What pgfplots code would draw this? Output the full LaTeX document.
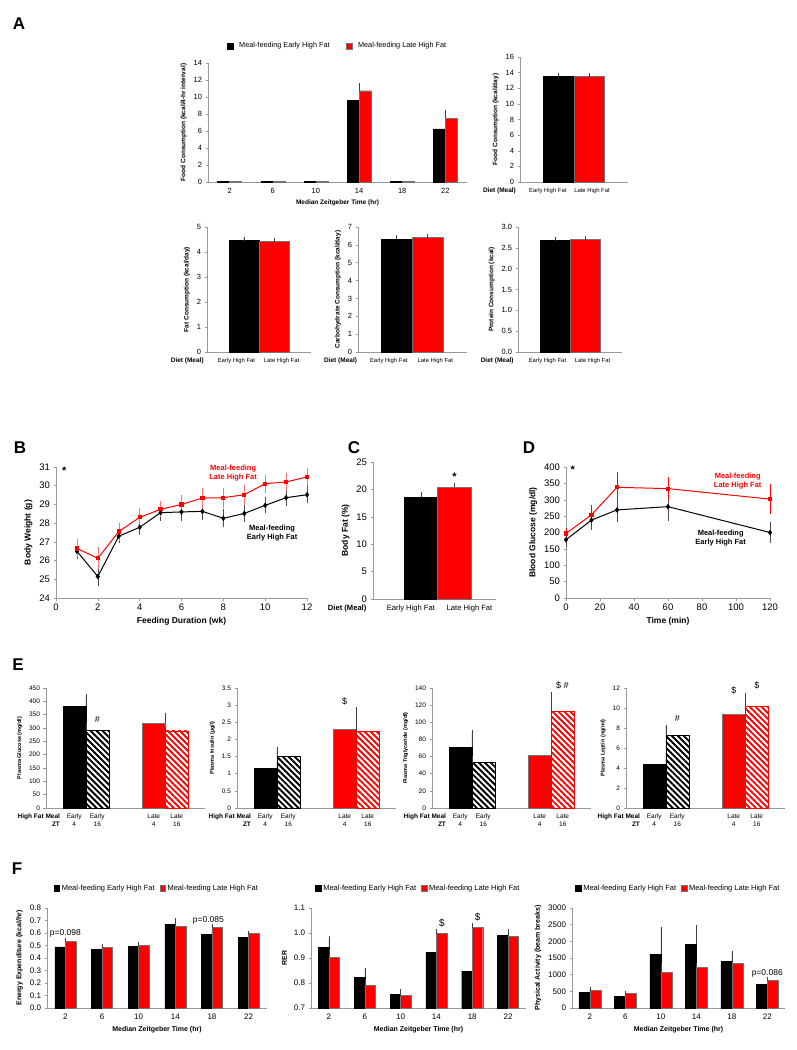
\documentclass[border=0pt]{standalone}
\usepackage{fontspec}
\setmainfont{Liberation Sans}
\usepackage{pgfplots}
\pgfplotsset{compat=1.18}
\usetikzlibrary{patterns.meta}

\newcommand\fsz[1]{\fontsize{#1}{\fpeval{#1*1.25}}\selectfont}

\pgfplotsset{
  panel/.style={
    scale only axis, clip=false, anchor=south west,
    axis x line*=bottom, axis y line*=left,
    axis line style={black!40, line width=0.5pt},
    ytick style={black!40, line width=0.5pt}, xtick style={draw=none},
    tick align=outside, major tick length=2.5pt,
    ymin=0,
    /pgf/number format/assume math mode=true,
    /pgf/number format/1000 sep={},
    label style={font=\bfseries},
    error bars/y dir=plus, error bars/y explicit,
    error bars/error bar style={black!75, line width=0.5pt},
    error bars/error mark options={black!75, line width=0.5pt, mark size=2pt},
    legend style={draw=none, fill=none, legend columns=2,
      /tikz/every even column/.append style={column sep=8pt}},
    legend cell align=left,
    legend image code/.code={\fill[##1] (0pt,-2.7pt) rectangle (5.4pt,2.7pt);},
  },
  barE/.style={ybar, fill=black, draw=black},
  barL/.style={ybar, fill=red, draw=black!55},
  hatE/.style={ybar, draw=black, pattern={Lines[angle=-45,distance=4.2pt,line width=1.9pt]}, pattern color=black},
  hatL/.style={ybar, draw=red, pattern={Lines[angle=-45,distance=4.2pt,line width=1.9pt]}, pattern color=red},
  onedec/.style={yticklabel style={/pgf/number format/.cd, fixed, fixed zerofill, precision=1}},
  epanel/.style={panel, width=159pt, height=120pt, xmin=-0.5, xmax=1.5,
    xtick={-0.1447,0.1447,0.8553,1.1447},
    xticklabels={{Early\\4},{Early\\16},{Late\\4},{Late\\16}},
    xticklabel style={align=center, font=\fsz{6.5}},
    yticklabel style={font=\fsz{6.5}},
    label style={font=\bfseries\fsz{5.5}}},
  fpanel/.style={panel, height=100pt, xmin=-0.5, xmax=5.5,
    xtick={0,...,5}, xticklabels={2,6,10,14,18,22},
    tick label style={font=\fsz{8}},
    label style={font=\bfseries\fsz{7}},
    xlabel={Median Zeitgeber Time (hr)},
    legend style={at={(0.5,1.12)}, anchor=south, font=\fsz{7.5},
      /tikz/every even column/.append style={column sep=3pt}}},
  apanel/.style={panel, height=125pt, xmin=-1.23, xmax=2.23,
    xtick={-0.25,1.25}, xticklabels={Early High Fat, Late High Fat},
    yticklabel style={font=\fsz{7.5}}, xticklabel style={font=\fsz{5.9}},
    label style={font=\bfseries\fsz{6.5}}},
}

\begin{document}
\begin{tikzpicture}
\path[use as bounding box] (0pt,0pt) rectangle (797pt,-1050pt);

\node[font=\bfseries\fsz{17}] at (19pt,-24pt) {A};
\node[font=\bfseries\fsz{17}] at (20pt,-448pt) {B};
\node[font=\bfseries\fsz{17}] at (354pt,-448pt) {C};
\node[font=\bfseries\fsz{17}] at (529pt,-448pt) {D};
\node[font=\bfseries\fsz{17}] at (18pt,-665pt) {E};
\node[font=\bfseries\fsz{17}] at (17pt,-869pt) {F};

% ---------- A: food consumption per 4-hr interval
\begin{axis}[panel, at={(208pt,-182pt)}, width=259pt, height=119pt,
  xmin=-0.5, xmax=5.5, ymax=14, ytick={0,2,...,14},
  xtick={0,...,5}, xticklabels={2,6,10,14,18,22},
  tick label style={font=\fsz{7.5}},
  ylabel={Food Consumption (kcal/4-hr interval)},
  xlabel={Median Zeitgeber Time (hr)},
  label style={font=\bfseries\fsz{6.5}},
  legend style={at={(0.5,1.08)}, anchor=south, font=\fsz{7.3},
    /tikz/every even column/.append style={column sep=14pt}},
  legend image code/.code={\fill[#1] (0pt,-3pt) rectangle (6pt,3pt);}]
\addplot[barE, bar width=12pt, bar shift=-6pt] coordinates {
  (0,0.05) (1,0.05) (2,0.05) (3,9.6) +- (0,1.34) (4,0.05) (5,6.25) +- (0,0.8)};
\addplot[barL, bar width=12pt, bar shift=6pt] coordinates {
  (0,0.05) (1,0.05) (2,0.05) (3,10.74) +- (0,0.67) (4,0.05) (5,7.5) +- (0,0.7)};
\addlegendentry{\hspace{4pt}Meal-feeding Early High Fat}
\addlegendentry{\hspace{4pt}Meal-feeding Late High Fat}
\end{axis}

% ---------- A: daily food consumption
\begin{axis}[apanel, at={(520pt,-182pt)}, width=108pt, xmin=-1.26, xmax=2.28,
  xtick={-0.35,1.1},
  ymax=16, ytick={0,2,...,16}, ylabel={Food Consumption (kcal/day)}]
\addplot[barE, bar width=30.5pt] coordinates {(0,13.5) +- (0,0.15)};
\addplot[barL, bar width=30.5pt] coordinates {(1,13.6) +- (0,0.12)};
\node[font=\bfseries\fsz{6.5}, anchor=north, yshift=-2.5pt] at (rel axis cs:-0.19,0) {Diet (Meal)};
\end{axis}

% ---------- A: fat
\begin{axis}[apanel, at={(207pt,-352pt)}, width=104pt,
  ymax=5, ytick={0,...,5}, ylabel={Fat Consumption (kcal/day)}]
\addplot[barE, bar width=30pt] coordinates {(0,4.48) +- (0,0.06)};
\addplot[barL, bar width=30pt] coordinates {(1,4.42) +- (0,0.06)};
\node[font=\bfseries\fsz{6.5}, anchor=north, yshift=-2.5pt] at (rel axis cs:-0.19,0) {Diet (Meal)};
\end{axis}

% ---------- A: carbohydrate
\begin{axis}[apanel, at={(358pt,-352pt)}, width=109pt, xmin=-1.24, xmax=2.27,
  ymax=7, ytick={0,...,7}, ylabel={Carbohydrate Consumption (kcal/day)}]
\addplot[barE, bar width=31pt] coordinates {(0,6.33) +- (0,0.1)};
\addplot[barL, bar width=31pt] coordinates {(1,6.45) +- (0,0.07)};
\node[font=\bfseries\fsz{6.5}, anchor=north, yshift=-2.5pt] at (rel axis cs:-0.16,0) {Diet (Meal)};
\end{axis}

% ---------- A: protein
\begin{axis}[apanel, onedec, at={(518pt,-352pt)}, width=104pt,
  ymax=3, ytick={0,0.5,1,1.5,2,2.5,3}, ylabel={Protein Consumption (kcal)}]
\addplot[barE, bar width=30pt] coordinates {(0,2.69) +- (0,0.02)};
\addplot[barL, bar width=30pt] coordinates {(1,2.71) +- (0,0.02)};
\node[font=\bfseries\fsz{6.5}, anchor=north, yshift=-2.5pt] at (rel axis cs:-0.2,0) {Diet (Meal)};
\end{axis}

% ---------- B: body weight
\begin{axis}[panel, at={(56pt,-598pt)}, width=251pt, height=131pt,
  xmin=0, xmax=12, ymin=24, ymax=31, xtick={0,2,...,12}, ytick={24,...,31},
  xtick style={draw=black!40, line width=0.5pt},
  tick label style={font=\fsz{9.5}},
  label style={font=\bfseries\fsz{8.5}},
  ylabel={Body Weight (g)}, xlabel={Feeding Duration (wk)},
  error bars/y dir=both]
\addplot[black, line width=1pt, mark=diamond*, mark size=2pt,
  error bars/error bar style={black!70, line width=0.5pt},
  error bars/error mark options={black!70, line width=0.5pt, mark size=2.5pt}] coordinates {
  (1,26.5) +- (0,0.3) (2,25.15) +- (0,0.4) (3,27.3) +- (0,0.25) (4,27.78) +- (0,0.3)
  (5,28.56) +- (0,0.3) (6,28.6) +- (0,0.35) (7,28.63) +- (0,0.35) (8,28.26) +- (0,0.35)
  (9,28.52) +- (0,0.35) (10,28.95) +- (0,0.3) (11,29.36) +- (0,0.3) (12,29.52) +- (0,0.33)};
\addplot[red, line width=1pt, mark=square*, mark size=1.6pt,
  error bars/error bar style={red!55, line width=0.5pt},
  error bars/error mark options={red!55, line width=0.5pt, mark size=2.5pt}] coordinates {
  (1,26.65) +- (0,0.35) (2,26.12) +- (0,0.45) (3,27.55) +- (0,0.35) (4,28.31) +- (0,0.35)
  (5,28.74) +- (0,0.3) (6,29.0) +- (0,0.35) (7,29.34) +- (0,0.4) (8,29.36) +- (0,0.4)
  (9,29.52) +- (0,0.4) (10,30.11) +- (0,0.35) (11,30.2) +- (0,0.37) (12,30.47) +- (0,0.35)};
\node[font=\bfseries\fsz{11}] at (axis cs:0.4,30.8) {*};
\node[font=\bfseries\fsz{7.5}, text=red, align=center] at (axis cs:8.47,30.68) {Meal-feeding\\Late High Fat};
\node[font=\bfseries\fsz{7.5}, align=center] at (axis cs:10.33,27.47) {Meal-feeding\\Early High Fat};
\end{axis}

% ---------- C: body fat
\begin{axis}[panel, at={(373pt,-599pt)}, width=123pt, height=137pt,
  xmin=-1.43, xmax=2.24, ymax=25, ytick={0,5,...,25},
  xtick={-0.3,1.45}, xticklabels={Early High Fat, Late High Fat},
  yticklabel style={font=\fsz{9.5}}, xticklabel style={font=\fsz{7.6}},
  label style={font=\bfseries\fsz{8.5}}, ylabel={Body Fat (\%)}]
\addplot[barE, bar width=33.5pt] coordinates {(0,18.6) +- (0,0.5)};
\addplot[barL, bar width=33.5pt] coordinates {(1,20.4) +- (0,0.45)};
\node[font=\bfseries\fsz{11}] at (axis cs:1,22.3) {*};
\node[font=\bfseries\fsz{7.6}, anchor=north, yshift=-2.5pt] at (rel axis cs:-0.21,0) {Diet (Meal)};
\end{axis}

% ---------- D: glucose tolerance
\begin{axis}[panel, at={(566pt,-598pt)}, width=204pt, height=131pt,
  xmin=0, xmax=120, ymax=400, xtick={0,20,...,120}, ytick={0,50,...,400},
  xtick style={draw=black!40, line width=0.5pt},
  tick label style={font=\fsz{9.5}},
  label style={font=\bfseries\fsz{8.5}},
  ylabel={Blood Glucose (mg/dl)}, xlabel={Time (min)},
  error bars/y dir=both]
\addplot[black, line width=1pt, mark=diamond*, mark size=2pt,
  error bars/error bar style={black!70, line width=0.5pt},
  error bars/error mark options={black!70, line width=0.5pt, mark size=2.5pt}] coordinates {
  (0,178) +- (0,15) (15,238) +- (0,22) (30,269) +- (0,28) (60,279) +- (0,37) (120,200) +- (0,23)};
\addplot[red, line width=1pt, mark=square*, mark size=1.6pt,
  error bars/error bar style={red, line width=0.5pt},
  error bars/error mark options={red, line width=0.5pt, mark size=2.5pt}] coordinates {
  (0,197) +- (0,8) (15,254) +- (0,22) (30,338) +- (0,40) (60,334) +- (0,28) (120,302) +- (0,38)};
\node[font=\bfseries\fsz{11}] at (axis cs:4,393) {*};
\node[font=\bfseries\fsz{7.5}, text=red, align=center] at (axis cs:101,357) {Meal-feeding\\Late High Fat};
\node[font=\bfseries\fsz{7.5}, align=center] at (axis cs:91,183) {Meal-feeding\\Early High Fat};
\end{axis}

% ---------- E: plasma glucose
\begin{axis}[epanel, at={(46pt,-808pt)}, ymax=450, ytick={0,50,...,450},
  ylabel={Plasma Glucose (mg/dl)}]
\addplot[barE, bar width=23pt, bar shift=-11.5pt] coordinates {(0,383) +- (0,37)};
\addplot[hatE, bar width=23pt, bar shift=11.5pt] coordinates {(0,290) +- (0,22)};
\addplot[barL, bar width=23pt, bar shift=-11.5pt] coordinates {(1,317) +- (0,33)};
\addplot[hatL, bar width=23pt, bar shift=11.5pt] coordinates {(1,289) +- (0,9)};
\node[font=\fsz{9}] at (axis cs:0.1447,334) {\#};
\node[font=\bfseries\fsz{6.5}, anchor=north east, align=right, yshift=-2.5pt] at (rel axis cs:0.11,0) {High Fat Meal\\ZT};
\end{axis}

% ---------- E: plasma insulin
\begin{axis}[epanel, at={(237pt,-808pt)}, ymax=3.5, ytick={0,0.5,...,3.5},
  ylabel={Plasma Insulin (µg/l)}]
\addplot[barE, bar width=23pt, bar shift=-11.5pt] coordinates {(0,1.17) +- (0,0.12)};
\addplot[hatE, bar width=23pt, bar shift=11.5pt] coordinates {(0,1.51) +- (0,0.21)};
\addplot[barL, bar width=23pt, bar shift=-11.5pt] coordinates {(1,2.31) +- (0,0.57)};
\addplot[hatL, bar width=23pt, bar shift=11.5pt] coordinates {(1,2.24) +- (0,0.32)};
\node[font=\fsz{9}] at (axis cs:0.8553,3.1) {\$};
\node[font=\bfseries\fsz{6.5}, anchor=north east, align=right, yshift=-2.5pt] at (rel axis cs:0.11,0) {High Fat Meal\\ZT};
\end{axis}

% ---------- E: plasma triglyceride
\begin{axis}[epanel, at={(432pt,-808pt)}, ymax=140, ytick={0,20,...,140},
  ylabel={Plasma Triglyceride (mg/dl)}]
\addplot[barE, bar width=23pt, bar shift=-11.5pt] coordinates {(0,70.8) +- (0,18)};
\addplot[hatE, bar width=23pt, bar shift=11.5pt] coordinates {(0,52.9) +- (0,5)};
\addplot[barL, bar width=23pt, bar shift=-11.5pt] coordinates {(1,61.5) +- (0,13)};
\addplot[hatL, bar width=23pt, bar shift=11.5pt] coordinates {(1,113) +- (0,20)};
\node[font=\fsz{9}] at (axis cs:1.14,142.7) {\$ \#};
\node[font=\bfseries\fsz{6.5}, anchor=north east, align=right, yshift=-2.5pt] at (rel axis cs:0.11,0) {High Fat Meal\\ZT};
\end{axis}

% ---------- E: plasma leptin
\begin{axis}[epanel, at={(626pt,-808pt)}, ymax=12, ytick={0,2,...,12},
  ylabel={Plasma Leptin (ng/ml)}]
\addplot[barE, bar width=23pt, bar shift=-11.5pt] coordinates {(0,4.43) +- (0,0.84)};
\addplot[hatE, bar width=23pt, bar shift=11.5pt] coordinates {(0,7.27) +- (0,0.83)};
\addplot[barL, bar width=23pt, bar shift=-11.5pt] coordinates {(1,9.37) +- (0,1.56)};
\addplot[hatL, bar width=23pt, bar shift=11.5pt] coordinates {(1,10.17) +- (0,1.16)};
\node[font=\fsz{9}] at (axis cs:0.1447,8.93) {\#};
\node[font=\fsz{9}] at (axis cs:0.8553,11.8) {\$};
\node[font=\fsz{9}] at (axis cs:1.1447,12.23) {\$};
\node[font=\bfseries\fsz{6.5}, anchor=north east, align=right, yshift=-2.5pt] at (rel axis cs:0.11,0) {High Fat Meal\\ZT};
\end{axis}

% ---------- F: energy expenditure
\begin{axis}[fpanel, onedec, at={(47pt,-1008pt)}, width=220pt,
  ymax=0.8, ytick={0,0.1,0.2,0.3,0.4,0.5,0.6,0.7,0.8},
  ylabel={Energy Expenditure (kcal/hr)}]
\addplot[barE, bar width=10.5pt, bar shift=-5.25pt] coordinates {
  (0,0.49) +- (0,0.03) (1,0.47) +- (0,0.02) (2,0.496) +- (0,0.015)
  (3,0.667) +- (0,0.04) (4,0.592) +- (0,0.015) (5,0.563) +- (0,0.03)};
\addplot[barL, bar width=10.5pt, bar shift=5.25pt] coordinates {
  (0,0.536) +- (0,0.012) (1,0.486) +- (0,0.012) (2,0.5) +- (0,0.012)
  (3,0.654) +- (0,0.015) (4,0.643) +- (0,0.015) (5,0.595) +- (0,0.005)};
\addlegendentry{Meal-feeding Early High Fat}
\addlegendentry{Meal-feeding Late High Fat}
\node[font=\fsz{8.5}] at (axis cs:0,0.6) {p=0.098};
\node[font=\fsz{8.5}] at (axis cs:3.9,0.7) {p=0.085};
\end{axis}

% ---------- F: RER
\begin{axis}[fpanel, onedec, clip=true, at={(311pt,-1008pt)}, width=215pt,
  ymin=0.7, ymax=1.1, ytick={0.7,0.8,0.9,1.0,1.1}, ylabel={RER}]
\addplot[barE, bar width=10.5pt, bar shift=-5.25pt] coordinates {
  (0,0.943) +- (0,0.036) (1,0.824) +- (0,0.029) (2,0.755) +- (0,0.012)
  (3,0.923) +- (0,0.024) (4,0.848) +- (0,0.03) (5,0.99) +- (0,0.02)};
\addplot[barL, bar width=10.5pt, bar shift=5.25pt] coordinates {
  (0,0.904) +- (0,0.024) (1,0.791) +- (0,0.017) (2,0.751) +- (0,0.005)
  (3,0.998) +- (0,0.01) (4,1.022) +- (0,0.011) (5,0.987) +- (0,0.015)};
\addlegendentry{Meal-feeding Early High Fat}
\addlegendentry{Meal-feeding Late High Fat}
\node[font=\fsz{10}] at (axis cs:3.15,1.04) {\$};
\node[font=\fsz{10}] at (axis cs:4.15,1.064) {\$};
\end{axis}

% ---------- F: physical activity
\begin{axis}[fpanel, at={(572pt,-1008pt)}, width=213pt,
  ymax=3000, ytick={0,500,...,3000}, ylabel={Physical Activity (beam breaks)}]
\addplot[barE, bar width=11pt, bar shift=-5.5pt] coordinates {
  (0,462) +- (0,90) (1,342) +- (0,60) (2,1620) +- (0,760)
  (3,1910) +- (0,510) (4,1400) +- (0,260) (5,700) +- (0,70)};
\addplot[barL, bar width=11pt, bar shift=5.5pt] coordinates {
  (0,522) +- (0,60) (1,441) +- (0,15) (2,1071) +- (0,231)
  (3,1230) +- (0,70) (4,1350) +- (0,110) (5,840) +- (0,30)};
\addlegendentry{Meal-feeding Early High Fat}
\addlegendentry{Meal-feeding Late High Fat}
\node[font=\fsz{8.5}] at (axis cs:5,1050) {p=0.086};
\end{axis}

\end{tikzpicture}
\end{document}
